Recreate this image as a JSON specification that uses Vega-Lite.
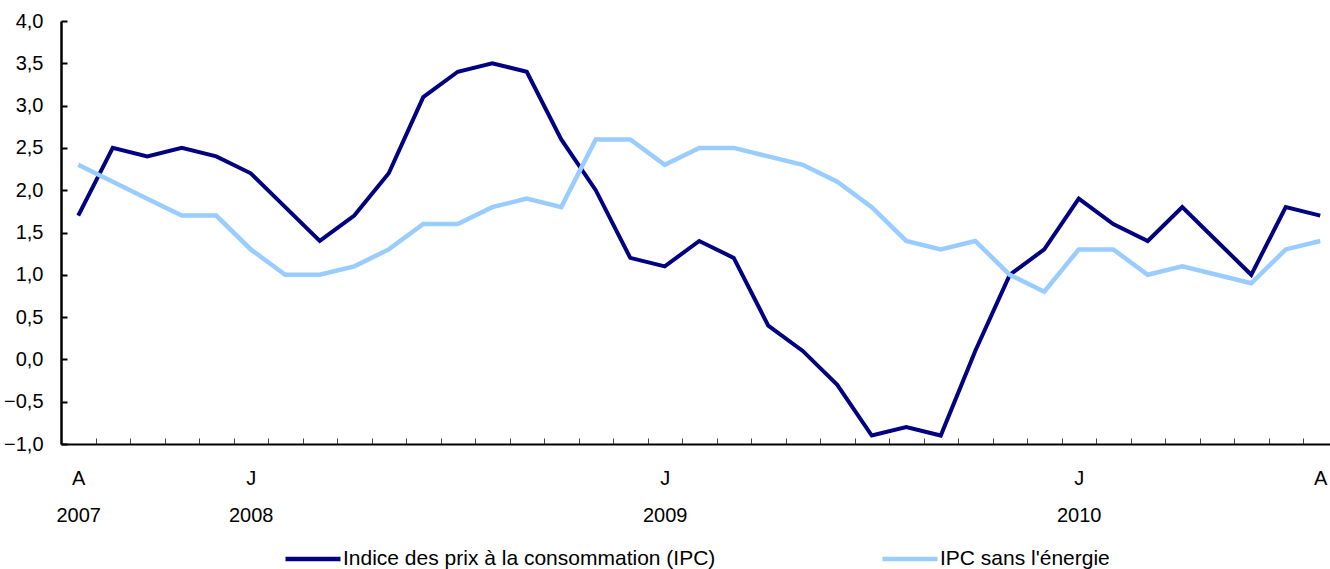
{
  "$schema": "https://vega.github.io/schema/vega-lite/v6.json",
  "width": 1269,
  "height": 423,
  "autosize": "none",
  "padding": {"left": 61, "top": 21, "right": 0, "bottom": 125},
  "background": "white",
  "config": {
    "view": {"stroke": null},
    "font": "Liberation Sans",
    "axis": {"grid": false, "title": null}
  },
  "datasets": {
    "ipc": [
      {"mois": "2007-08", "serie": "Indice des prix à la consommation (IPC)", "valeur": 1.7},
      {"mois": "2007-09", "serie": "Indice des prix à la consommation (IPC)", "valeur": 2.5},
      {"mois": "2007-10", "serie": "Indice des prix à la consommation (IPC)", "valeur": 2.4},
      {"mois": "2007-11", "serie": "Indice des prix à la consommation (IPC)", "valeur": 2.5},
      {"mois": "2007-12", "serie": "Indice des prix à la consommation (IPC)", "valeur": 2.4},
      {"mois": "2008-01", "serie": "Indice des prix à la consommation (IPC)", "valeur": 2.2},
      {"mois": "2008-02", "serie": "Indice des prix à la consommation (IPC)", "valeur": 1.8},
      {"mois": "2008-03", "serie": "Indice des prix à la consommation (IPC)", "valeur": 1.4},
      {"mois": "2008-04", "serie": "Indice des prix à la consommation (IPC)", "valeur": 1.7},
      {"mois": "2008-05", "serie": "Indice des prix à la consommation (IPC)", "valeur": 2.2},
      {"mois": "2008-06", "serie": "Indice des prix à la consommation (IPC)", "valeur": 3.1},
      {"mois": "2008-07", "serie": "Indice des prix à la consommation (IPC)", "valeur": 3.4},
      {"mois": "2008-08", "serie": "Indice des prix à la consommation (IPC)", "valeur": 3.5},
      {"mois": "2008-09", "serie": "Indice des prix à la consommation (IPC)", "valeur": 3.4},
      {"mois": "2008-10", "serie": "Indice des prix à la consommation (IPC)", "valeur": 2.6},
      {"mois": "2008-11", "serie": "Indice des prix à la consommation (IPC)", "valeur": 2.0},
      {"mois": "2008-12", "serie": "Indice des prix à la consommation (IPC)", "valeur": 1.2},
      {"mois": "2009-01", "serie": "Indice des prix à la consommation (IPC)", "valeur": 1.1},
      {"mois": "2009-02", "serie": "Indice des prix à la consommation (IPC)", "valeur": 1.4},
      {"mois": "2009-03", "serie": "Indice des prix à la consommation (IPC)", "valeur": 1.2},
      {"mois": "2009-04", "serie": "Indice des prix à la consommation (IPC)", "valeur": 0.4},
      {"mois": "2009-05", "serie": "Indice des prix à la consommation (IPC)", "valeur": 0.1},
      {"mois": "2009-06", "serie": "Indice des prix à la consommation (IPC)", "valeur": -0.3},
      {"mois": "2009-07", "serie": "Indice des prix à la consommation (IPC)", "valeur": -0.9},
      {"mois": "2009-08", "serie": "Indice des prix à la consommation (IPC)", "valeur": -0.8},
      {"mois": "2009-09", "serie": "Indice des prix à la consommation (IPC)", "valeur": -0.9},
      {"mois": "2009-10", "serie": "Indice des prix à la consommation (IPC)", "valeur": 0.1},
      {"mois": "2009-11", "serie": "Indice des prix à la consommation (IPC)", "valeur": 1.0},
      {"mois": "2009-12", "serie": "Indice des prix à la consommation (IPC)", "valeur": 1.3},
      {"mois": "2010-01", "serie": "Indice des prix à la consommation (IPC)", "valeur": 1.9},
      {"mois": "2010-02", "serie": "Indice des prix à la consommation (IPC)", "valeur": 1.6},
      {"mois": "2010-03", "serie": "Indice des prix à la consommation (IPC)", "valeur": 1.4},
      {"mois": "2010-04", "serie": "Indice des prix à la consommation (IPC)", "valeur": 1.8},
      {"mois": "2010-05", "serie": "Indice des prix à la consommation (IPC)", "valeur": 1.4},
      {"mois": "2010-06", "serie": "Indice des prix à la consommation (IPC)", "valeur": 1.0},
      {"mois": "2010-07", "serie": "Indice des prix à la consommation (IPC)", "valeur": 1.8},
      {"mois": "2010-08", "serie": "Indice des prix à la consommation (IPC)", "valeur": 1.7}
    ],
    "sansenergie": [
      {"mois": "2007-08", "serie": "IPC sans l'énergie", "valeur": 2.3},
      {"mois": "2007-09", "serie": "IPC sans l'énergie", "valeur": 2.1},
      {"mois": "2007-10", "serie": "IPC sans l'énergie", "valeur": 1.9},
      {"mois": "2007-11", "serie": "IPC sans l'énergie", "valeur": 1.7},
      {"mois": "2007-12", "serie": "IPC sans l'énergie", "valeur": 1.7},
      {"mois": "2008-01", "serie": "IPC sans l'énergie", "valeur": 1.3},
      {"mois": "2008-02", "serie": "IPC sans l'énergie", "valeur": 1.0},
      {"mois": "2008-03", "serie": "IPC sans l'énergie", "valeur": 1.0},
      {"mois": "2008-04", "serie": "IPC sans l'énergie", "valeur": 1.1},
      {"mois": "2008-05", "serie": "IPC sans l'énergie", "valeur": 1.3},
      {"mois": "2008-06", "serie": "IPC sans l'énergie", "valeur": 1.6},
      {"mois": "2008-07", "serie": "IPC sans l'énergie", "valeur": 1.6},
      {"mois": "2008-08", "serie": "IPC sans l'énergie", "valeur": 1.8},
      {"mois": "2008-09", "serie": "IPC sans l'énergie", "valeur": 1.9},
      {"mois": "2008-10", "serie": "IPC sans l'énergie", "valeur": 1.8},
      {"mois": "2008-11", "serie": "IPC sans l'énergie", "valeur": 2.6},
      {"mois": "2008-12", "serie": "IPC sans l'énergie", "valeur": 2.6},
      {"mois": "2009-01", "serie": "IPC sans l'énergie", "valeur": 2.3},
      {"mois": "2009-02", "serie": "IPC sans l'énergie", "valeur": 2.5},
      {"mois": "2009-03", "serie": "IPC sans l'énergie", "valeur": 2.5},
      {"mois": "2009-04", "serie": "IPC sans l'énergie", "valeur": 2.4},
      {"mois": "2009-05", "serie": "IPC sans l'énergie", "valeur": 2.3},
      {"mois": "2009-06", "serie": "IPC sans l'énergie", "valeur": 2.1},
      {"mois": "2009-07", "serie": "IPC sans l'énergie", "valeur": 1.8},
      {"mois": "2009-08", "serie": "IPC sans l'énergie", "valeur": 1.4},
      {"mois": "2009-09", "serie": "IPC sans l'énergie", "valeur": 1.3},
      {"mois": "2009-10", "serie": "IPC sans l'énergie", "valeur": 1.4},
      {"mois": "2009-11", "serie": "IPC sans l'énergie", "valeur": 1.0},
      {"mois": "2009-12", "serie": "IPC sans l'énergie", "valeur": 0.8},
      {"mois": "2010-01", "serie": "IPC sans l'énergie", "valeur": 1.3},
      {"mois": "2010-02", "serie": "IPC sans l'énergie", "valeur": 1.3},
      {"mois": "2010-03", "serie": "IPC sans l'énergie", "valeur": 1.0},
      {"mois": "2010-04", "serie": "IPC sans l'énergie", "valeur": 1.1},
      {"mois": "2010-05", "serie": "IPC sans l'énergie", "valeur": 1.0},
      {"mois": "2010-06", "serie": "IPC sans l'énergie", "valeur": 0.9},
      {"mois": "2010-07", "serie": "IPC sans l'énergie", "valeur": 1.3},
      {"mois": "2010-08", "serie": "IPC sans l'énergie", "valeur": 1.4}
    ]
  },
  "layer": [
    {
      "data": {"name": "ipc"},
      "mark": {"type": "line", "strokeWidth": 4, "strokeJoin": "miter"},
      "encoding": {
        "x": {
          "field": "mois", "type": "ordinal",
          "scale": {"type": "band", "paddingInner": 0, "paddingOuter": 0, "range": [0, 1276.5]},
          "axis": {
            "orient": "bottom",
            "domainColor": "black", "domainWidth": 2,
            "ticks": true, "tickBand": "extent", "tickSize": -6, "tickColor": "#444", "tickWidth": 1,
            "labelAngle": 0, "labelOverlap": false,
            "labelFontSize": 20, "labelColor": "black", "labelLineHeight": 37,
            "labelBaseline": "top", "labelPadding": 30,
            "labelExpr": "datum.value == '2007-08' ? ['A', '2007'] : datum.value == '2010-08' ? ['A'] : substring(datum.value, 5, 7) == '01' ? ['J', substring(datum.value, 0, 4)] : ''"
          }
        },
        "y": {
          "field": "valeur", "type": "quantitative",
          "scale": {"domain": [-1, 4], "nice": false, "zero": false},
          "axis": {
            "values": [-1, -0.5, 0, 0.5, 1, 1.5, 2, 2.5, 3, 3.5, 4],
            "domainColor": "black", "domainWidth": 2.5,
            "tickSize": -6, "tickColor": "black", "tickWidth": 2,
            "labelFontSize": 20, "labelColor": "black", "labelPadding": 24,
            "labelExpr": "replace(format(datum.value, '.1f'), '.', ',')"
          }
        },
        "color": {
          "field": "serie", "type": "nominal",
          "scale": {"domain": ["Indice des prix à la consommation (IPC)", "IPC sans l'énergie"], "range": ["#000080", "#99CCFF"]},
          "legend": {
            "orient": "none", "legendX": 222, "legendY": 508, "direction": "horizontal", "columns": 2,
            "title": null, "padding": 0, "symbolType": "stroke", "symbolSize": 3025, "symbolStrokeWidth": 4.5,
            "labelFontSize": 21, "labelColor": "black", "labelOffset": 0, "labelLimit": 0, "columnPadding": 157
          }
        }
      }
    },
    {
      "data": {"name": "sansenergie"},
      "mark": {"type": "line", "strokeWidth": 4.5, "strokeJoin": "miter"},
      "encoding": {
        "x": {"field": "mois", "type": "ordinal"},
        "y": {"field": "valeur", "type": "quantitative"},
        "color": {"field": "serie", "type": "nominal"}
      }
    },
    {
      "mark": {"type": "rule", "color": "black", "strokeWidth": 1.5},
      "encoding": {"y": {"datum": 0}}
    },
    {
      "mark": {"type": "rule", "color": "black", "strokeWidth": 2},
      "encoding": {"y": {"datum": 4}}
    }
  ]
}
